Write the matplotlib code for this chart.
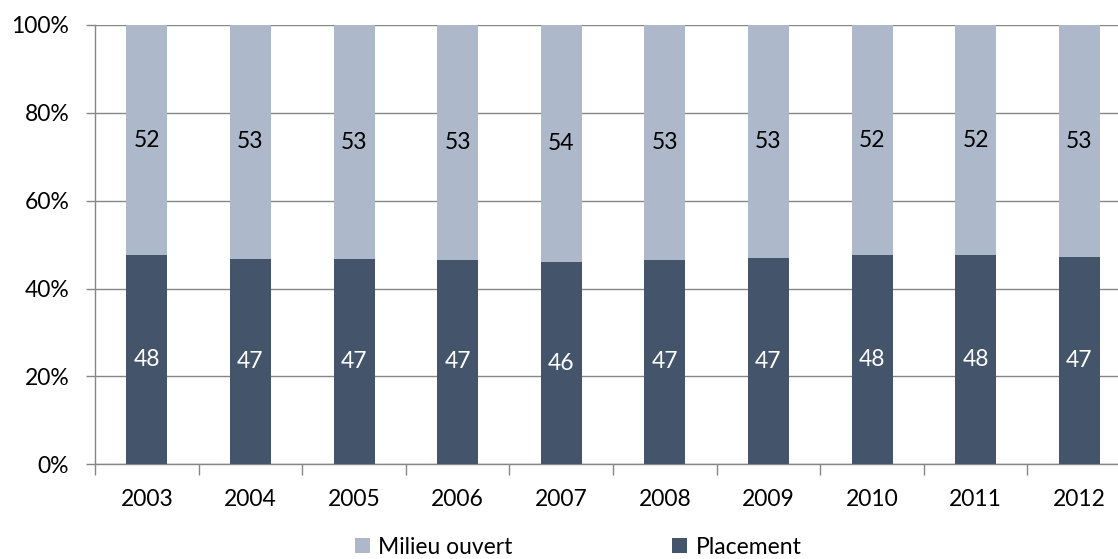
import matplotlib.pyplot as plt
import numpy as np
from matplotlib.ticker import FuncFormatter

years = ["2003", "2004", "2005", "2006", "2007", "2008", "2009", "2010", "2011", "2012"]
placement = [47.6, 46.8, 46.7, 46.6, 46.1, 46.6, 47.0, 47.6, 47.6, 47.1]
milieu_ouvert = [52.4, 53.2, 53.3, 53.4, 53.9, 53.4, 53.0, 52.4, 52.4, 52.9]

dark = "#44546A"
light = "#ADB9CA"
grid_color = "#868686"
fsize = 16.5

plt.rcParams["font.family"] = ["Lato", "DejaVu Sans"]

fig = plt.figure(figsize=(11.18, 5.59), dpi=100)
# the plot area runs a little past the right edge, as in the original export
ax = fig.add_axes([0.085, 0.1694, 0.9267, 0.7859])

x = np.arange(len(years))
width = 0.396
bars_p = ax.bar(x, placement, width, color=dark, label="Placement", zorder=3)
bars_m = ax.bar(x, milieu_ouvert, width, bottom=placement, color=light,
                label="Milieu ouvert", zorder=3)

for i in range(len(years)):
    ax.text(x[i], placement[i] / 2, f"{round(placement[i])}", ha="center", va="center",
            color="white", fontsize=fsize, zorder=4)
    ax.text(x[i], placement[i] + milieu_ouvert[i] / 2, f"{round(milieu_ouvert[i])}",
            ha="center", va="center", color="black", fontsize=fsize, zorder=4)

ax.set_xlim(-0.5, len(years) - 0.5)
ax.set_ylim(0, 100)
ax.set_yticks(np.arange(0, 101, 20))
ax.yaxis.set_major_formatter(FuncFormatter(lambda v, _: f"{v:.0f}%"))
ax.grid(axis="y", color=grid_color, linewidth=1.0, zorder=0)

ax.set_xticks(x)
ax.set_xticklabels(years)
ax.set_xticks(np.arange(-0.5, len(years), 1), minor=True)
ax.tick_params(axis="x", which="major", length=0, pad=18, labelsize=fsize)
ax.tick_params(axis="x", which="minor", length=8, color=grid_color, width=1)
ax.tick_params(axis="y", length=6.5, color=grid_color, width=1, labelsize=fsize, pad=12)

for side in ("top", "right"):
    ax.spines[side].set_visible(False)
for side in ("left", "bottom"):
    ax.spines[side].set_color(grid_color)
    ax.spines[side].set_linewidth(1.0)

fig.legend([bars_m, bars_p], ["Milieu ouvert", "Placement"], loc="lower center",
           bbox_to_anchor=(0.517, -0.018), ncol=2, frameon=False, fontsize=fsize,
           handlelength=0.65, handleheight=0.65, handletextpad=0.35, columnspacing=7,
           borderpad=0)

fig.savefig("out.png", dpi=100)
